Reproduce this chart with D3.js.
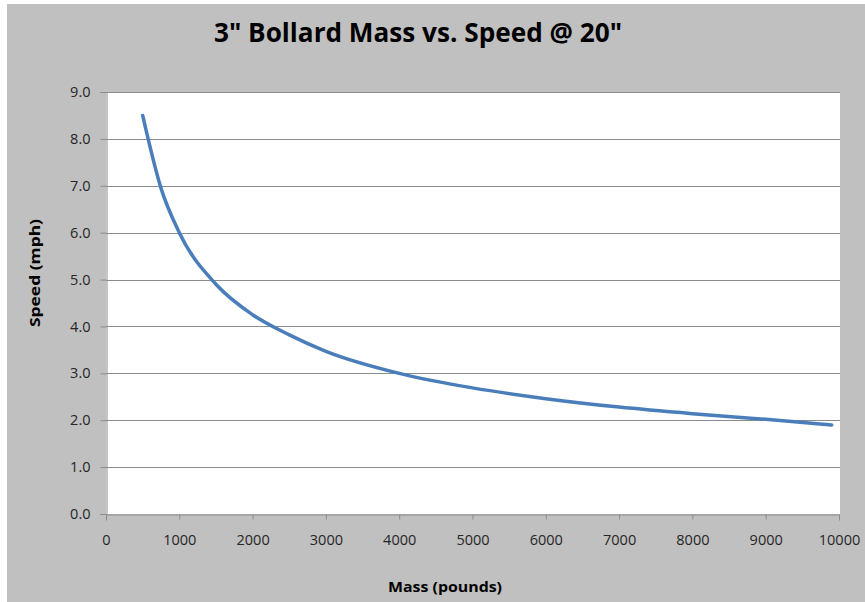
<!DOCTYPE html>
<html><head><meta charset="utf-8">
<script src="https://cdn.jsdelivr.net/npm/d3@7/dist/d3.min.js"></script>
<style>html,body{margin:0;padding:0;background:#fff;}svg{display:block;}</style>
</head><body>
<svg id="c" width="865" height="602"></svg>
<script>
const mass = [500, 750, 1000, 1500, 2000, 2500, 3000, 4000, 5000, 6000, 7000, 8000, 9000, 9900];
const speed = [8.5, 6.95, 6.0, 4.9, 4.25, 3.82, 3.47, 3.0, 2.69, 2.46, 2.28, 2.14, 2.02, 1.9];
const xTicks = [0,1000,2000,3000,4000,5000,6000,7000,8000,9000,10000];
const yTicks = [0,1,2,3,4,5,6,7,8,9];
const title = '3" Bollard Mass vs. Speed @ 20"';
const xTitle = 'Mass (pounds)';
const yTitle = 'Speed (mph)';

const svg = d3.select('#c');
svg.append('rect').attr('x',7).attr('y',4).attr('width',858).attr('height',598).attr('fill','#c0c0c0');
const L=106,R=840,T=92,B=514;
svg.append('rect').attr('x',L).attr('y',T).attr('width',R-L).attr('height',B-T).attr('fill','#fff');
const x = d3.scaleLinear().domain([0,10000]).range([L,R-1]);
const y = d3.scaleLinear().domain([0,9]).range([B,T]);
const font = '"Open Sans", sans-serif';

// gridlines
svg.append('g').selectAll('line').data(yTicks.slice(1)).join('line')
  .attr('x1',L).attr('x2',R).attr('y1',d=>Math.round(y(d))+0.5).attr('y2',d=>Math.round(y(d))+0.5)
  .attr('stroke','#8c8c8c').attr('stroke-width',1);

// y axis
const ya = svg.append('g').attr('transform',`translate(${L+0.5},0)`)
  .call(d3.axisLeft(y).tickValues(yTicks).tickFormat(d3.format('.1f')).tickSize(6).tickPadding(10));
// x axis
const xa = svg.append('g').attr('transform',`translate(0,${B+0.5})`)
  .call(d3.axisBottom(x).tickValues(xTicks).tickFormat(d3.format('d')).tickSize(6).tickPadding(14));
[ya,xa].forEach(a=>{
  a.select('.domain').attr('stroke','#8c8c8c');
  a.selectAll('.tick line').attr('stroke','#8c8c8c');
  a.selectAll('.tick text').attr('fill','#262626').style('font-family',font).style('font-size','14.5px');
});
xa.selectAll('.tick line').attr('y2',5);
ya.selectAll('.tick line').attr('x2',-6);

// line
const pts = mass.map((m,i)=>[m,speed[i]]);
svg.append('path').datum(pts)
  .attr('d', d3.line().x(d=>x(d[0])).y(d=>y(d[1])).curve(d3.curveMonotoneX))
  .attr('fill','none').attr('stroke','#4a7ebb').attr('stroke-width',3.5).attr('stroke-linecap','round');

// titles
svg.append('text').attr('x',418).attr('y',42).attr('text-anchor','middle')
  .attr('textLength',408).attr('lengthAdjust','spacingAndGlyphs')
  .style('font-family',font).style('font-weight','bold').style('font-size','27px').attr('fill','#000').text(title);
svg.append('text').attr('x',445).attr('y',592).attr('text-anchor','middle')
  .attr('textLength',114).attr('lengthAdjust','spacingAndGlyphs')
  .style('font-family',font).style('font-weight','bold').style('font-size','14.5px').attr('fill','#000').text(xTitle);
svg.append('text').attr('transform','translate(40,273) rotate(-90)').attr('text-anchor','middle')
  .attr('textLength',108).attr('lengthAdjust','spacingAndGlyphs')
  .style('font-family',font).style('font-weight','bold').style('font-size','15px').attr('fill','#000').text(yTitle);
</script>
</body></html>
